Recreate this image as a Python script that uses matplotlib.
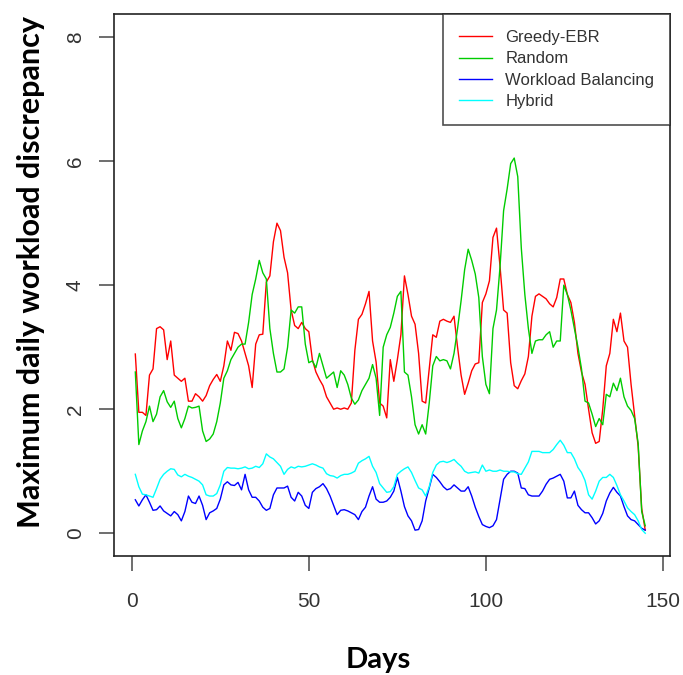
import numpy as np
import matplotlib
matplotlib.use("Agg")
import matplotlib.pyplot as plt

days = np.arange(1, 146)

greedy_ebr = [
    2.89, 1.95, 1.95, 1.9, 2.55, 2.65, 3.3, 3.33, 3.28, 2.8, 3.1, 2.55, 2.5, 2.45, 2.5,
    2.13, 2.13, 2.25, 2.2, 2.13, 2.22, 2.38, 2.48, 2.56, 2.45,
    2.7, 3.1, 2.95, 3.24, 3.22, 3.1, 2.9, 2.7, 2.35, 3.05, 3.2, 3.21, 4.05, 4.15, 4.7,
    5.0, 4.88, 4.45, 4.2, 3.6, 3.35, 3.3, 3.4, 3.3, 3.25,
    2.8, 2.6, 2.48, 2.38, 2.2, 2.1, 2.0, 2.02, 2.0, 2.02, 2.0, 2.1, 2.95, 3.45, 3.53,
    3.7, 3.9, 3.1, 2.76, 2.1, 2.05, 1.86, 2.8, 2.45, 2.8,
    3.2, 4.15, 3.85, 3.5, 3.37, 2.9, 2.13, 2.1, 2.65, 3.2, 3.16, 3.42, 3.45, 3.42, 3.4,
    3.5, 3.0, 2.55, 2.24, 2.42, 2.62, 2.73, 2.75, 3.72, 3.86,
    4.07, 4.77, 4.92, 4.3, 3.6, 3.55, 2.75, 2.38, 2.33, 2.46, 2.57, 2.85, 3.5, 3.82, 3.86,
    3.82, 3.78, 3.7, 3.65, 3.8, 4.1, 4.1, 3.85, 3.72, 3.4,
    2.9, 2.6, 2.4, 2.0, 1.62, 1.45, 1.48, 2.0, 2.7, 2.9, 3.45, 3.25, 3.55, 3.1, 3.0,
    2.4, 1.9, 1.4, 0.4, 0.05,
]

random_ = [
    2.6, 1.43, 1.65, 1.8, 2.05, 1.8, 1.92, 2.2, 2.3, 2.12, 2.03, 2.13, 1.85, 1.7, 1.85,
    2.05, 2.02, 2.03, 2.05, 1.65, 1.48, 1.52, 1.6, 1.8, 2.1,
    2.5, 2.62, 2.8, 2.9, 3.0, 3.05, 3.05, 3.4, 3.85, 4.1, 4.4, 4.2, 4.1, 3.3, 2.9,
    2.6, 2.6, 2.65, 3.0, 3.6, 3.55, 3.65, 3.65, 3.05, 2.75,
    2.78, 2.67, 2.9, 2.7, 2.5, 2.55, 2.6, 2.35, 2.62, 2.55, 2.4, 2.18, 2.08, 2.15, 2.3,
    2.4, 2.5, 2.72, 2.5, 1.9, 3.0, 3.2, 3.32, 3.55, 3.82,
    3.9, 2.6, 2.55, 2.2, 1.75, 1.6, 1.75, 1.6, 2.1, 2.7, 2.85, 2.78, 2.8, 2.78, 2.65,
    2.9, 3.3, 3.75, 4.25, 4.58, 4.4, 4.18, 3.8, 2.85, 2.4,
    2.25, 3.3, 3.6, 4.3, 5.2, 5.55, 5.96, 6.05, 5.75, 4.6, 3.85, 3.3, 2.9, 3.1, 3.12,
    3.12, 3.2, 3.25, 3.0, 3.1, 3.1, 4.0, 3.85, 3.6, 3.3,
    3.0, 2.65, 2.13, 2.1, 1.92, 1.72, 1.85, 1.75, 2.24, 2.2, 2.42, 2.3, 2.5, 2.2, 2.05,
    1.98, 1.85, 1.45, 0.35, 0.12,
]

workload_balancing = [
    0.54, 0.44, 0.54, 0.62, 0.5, 0.37, 0.38, 0.44, 0.36, 0.32, 0.28, 0.35, 0.3, 0.2, 0.35,
    0.6, 0.5, 0.48, 0.6, 0.45, 0.22, 0.33, 0.36, 0.4, 0.55,
    0.78, 0.83, 0.78, 0.77, 0.82, 0.7, 0.95, 0.7, 0.58, 0.58, 0.52, 0.42, 0.37, 0.4, 0.62,
    0.73, 0.73, 0.73, 0.76, 0.58, 0.52, 0.66, 0.6, 0.45, 0.4,
    0.66, 0.72, 0.75, 0.8, 0.72, 0.6, 0.45, 0.3, 0.37, 0.38, 0.36, 0.33, 0.3, 0.22, 0.35,
    0.42, 0.6, 0.75, 0.55, 0.5, 0.5, 0.52, 0.58, 0.68, 0.9,
    0.68, 0.43, 0.28, 0.2, 0.05, 0.06, 0.2, 0.52, 0.73, 0.95, 0.9, 0.83, 0.75, 0.7, 0.72,
    0.78, 0.73, 0.68, 0.68, 0.75, 0.6, 0.42, 0.27, 0.14, 0.11,
    0.09, 0.12, 0.22, 0.55, 0.87, 0.95, 1.0, 1.0, 0.97, 0.73, 0.72, 0.62, 0.6, 0.6, 0.6,
    0.68, 0.79, 0.87, 0.89, 0.92, 0.95, 0.84, 0.57, 0.57, 0.68,
    0.45, 0.38, 0.33, 0.33, 0.25, 0.15, 0.2, 0.32, 0.52, 0.65, 0.74, 0.66, 0.6, 0.43, 0.28,
    0.22, 0.2, 0.14, 0.08, 0.05,
]

hybrid = [
    0.95, 0.75, 0.63, 0.62, 0.6, 0.58, 0.72, 0.87, 0.95, 1.0, 1.04, 1.03, 0.94, 0.91, 0.95,
    0.92, 0.9, 0.87, 0.84, 0.78, 0.62, 0.6, 0.6, 0.64, 0.78,
    1.0, 1.06, 1.05, 1.05, 1.04, 1.05, 1.07, 1.04, 1.05, 1.08, 1.06, 1.12, 1.28, 1.23, 1.2,
    1.14, 1.08, 0.95, 1.03, 1.07, 1.05, 1.08, 1.07, 1.08, 1.1,
    1.12, 1.1, 1.07, 1.05, 0.96, 0.93, 0.92, 0.89, 0.93, 0.95, 0.95, 0.97, 1.0, 1.13, 1.17,
    1.2, 1.24, 1.08, 0.98, 0.8, 0.73, 0.66, 0.67, 0.75, 0.95,
    1.0, 1.04, 1.07, 0.98, 0.85, 0.73, 0.7, 0.6, 0.75, 0.98, 1.1, 1.15, 1.16, 1.14, 1.16,
    1.19, 1.13, 1.08, 1.0, 0.97, 0.98, 0.99, 0.97, 1.1, 1.0,
    1.02, 1.0, 1.0, 1.02, 1.0, 1.0, 0.99, 0.99, 0.96, 0.95, 1.05, 1.15, 1.32, 1.32, 1.32,
    1.3, 1.3, 1.3, 1.35, 1.43, 1.5, 1.42, 1.3, 1.3, 1.2,
    1.06, 0.98, 0.85, 0.62, 0.55, 0.68, 0.84, 0.9, 0.9, 0.95, 0.9, 0.77, 0.62, 0.52, 0.41,
    0.35, 0.3, 0.2, 0.06, 0.0,
]

labels = ["Greedy-EBR", "Random", "Workload Balancing", "Hybrid"]
colors = ["#ff0000", "#00cc00", "#0000ff", "#00ffff"]

fig = plt.figure(figsize=(6.83, 6.75), dpi=100)
ax = fig.add_axes([0.167, 0.176, 0.814, 0.803])

for ys, lab, col in zip([greedy_ebr, random_, workload_balancing, hybrid], labels, colors):
    ax.plot(days, ys, color=col, lw=1.0, label=lab)

ax.set_xlim(-5, 152)
ax.set_ylim(-0.37, 8.37)
ax.set_xticks([0, 50, 100, 150])
ax.set_yticks([0, 2, 4, 6, 8])

tick_font = "Liberation Sans"
ax.tick_params(axis="both", direction="out", length=11, width=1.2, color="#555555",
               labelsize=15, labelcolor="#333333", pad=10)
ax.tick_params(axis="x", pad=15)
for t in ax.get_xticklabels():
    t.set_family(tick_font)
for t in ax.get_yticklabels():
    t.set_family(tick_font)
    t.set_rotation(90)
    t.set_va("center")

for sp in ax.spines.values():
    sp.set_color("#222222")
    sp.set_linewidth(1.2)

ax.set_xlabel("Days", family="Lato", fontweight="bold", fontsize=21)
ax.set_ylabel("Maximum daily workload discrepancy", family="Lato", fontweight="bold",
              fontsize=22)
ax.xaxis.set_label_coords(0.475, -0.168)
ax.yaxis.set_label_coords(-0.125, 0.524)

leg = ax.legend(loc="upper right", borderaxespad=0, fancybox=False, frameon=True,
                prop={"family": tick_font, "size": 12}, handlelength=2.0,
                handletextpad=0.8, labelspacing=0.38, borderpad=0.95)
leg.get_frame().set_edgecolor("#222222")
leg.get_frame().set_linewidth(1.2)
for t in leg.get_texts():
    t.set_color("#333333")

fig.savefig("out.png", dpi=100)
